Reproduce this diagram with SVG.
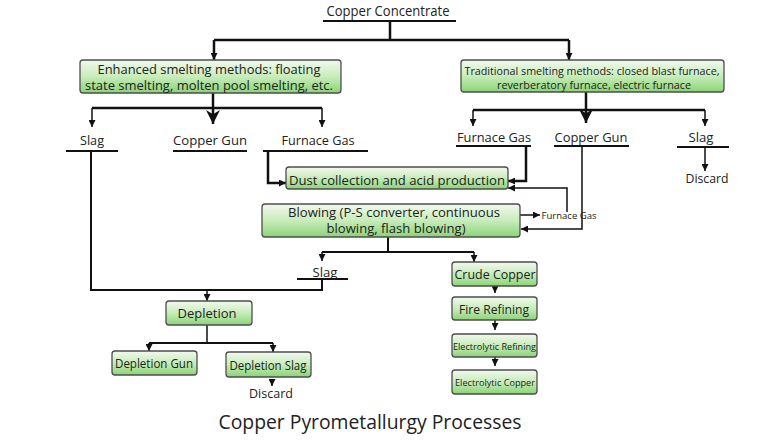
<svg xmlns="http://www.w3.org/2000/svg" width="768" height="440" viewBox="0 0 768 440">
<style>
text{font-family:"Open Sans","Noto Sans","DejaVu Sans",sans-serif;fill:#222;text-anchor:middle}
.box{fill:url(#g);stroke:#4d4d4d;stroke-width:1.3}
.l{fill:none;stroke:#111;stroke-width:2.5}
.t{fill:none;stroke:#111;stroke-width:1.5}
.u{fill:none;stroke:#111;stroke-width:2}
</style>
<defs>
<linearGradient id="g" x1="0" y1="0" x2="0" y2="1">
<stop offset="0" stop-color="#f1f9ee"/>
<stop offset="0.5" stop-color="#c8ecbb"/>
<stop offset="1" stop-color="#8ad476"/>
</linearGradient>
<marker id="a" viewBox="0 0 10 10" refX="10" refY="5" markerWidth="7" markerHeight="7" markerUnits="userSpaceOnUse" orient="auto"><path d="M0,0L10,5L0,10z" fill="#111"/></marker>
<marker id="b" viewBox="0 0 10 10" refX="10" refY="5" markerWidth="14" markerHeight="14" markerUnits="userSpaceOnUse" orient="auto"><path d="M0,0L10,5L0,10L3,5z" fill="#111"/></marker>
</defs>
<rect width="768" height="440" fill="#fff"/>
<g id="connectors">
<path class="l" d="M390,21V40"/>
<path class="l" d="M214,40H569"/>
<path class="l" d="M214,40V60" marker-end="url(#a)"/>
<path class="l" d="M569,40V60" marker-end="url(#a)"/>
<path class="l" d="M213,93V124" marker-end="url(#b)"/>
<path class="l" d="M92,108H322"/>
<path class="t" d="M92,108V127" marker-end="url(#a)"/>
<path class="t" d="M322,108V127" marker-end="url(#a)"/>
<path class="l" d="M586,92V123" marker-end="url(#b)"/>
<path class="l" d="M473,110H705"/>
<path class="t" d="M473,110V126" marker-end="url(#a)"/>
<path class="t" d="M705,110V126" marker-end="url(#a)"/>
<path class="u" d="M66,151H118"/>
<path class="u" d="M173,151H247"/>
<path class="u" d="M263,151H368"/>
<path class="u" d="M456,146H531"/>
<path class="u" d="M554,146H629"/>
<path class="u" d="M677,147H729"/>
<path class="u" d="M323,21H456"/>
<path class="t" d="M705,147V171" marker-end="url(#a)"/>
<path class="l" d="M268,151V183H286" marker-end="url(#a)"/>
<path class="l" d="M526,146V181H508" marker-end="url(#a)"/>
<path class="t" d="M520,215H540" marker-end="url(#a)"/>
<path class="t" d="M567,212V188H508" marker-end="url(#a)"/>
<path class="t" d="M582,146V229H521" marker-end="url(#a)"/>
<path class="u" d="M388,237V252"/>
<path class="u" d="M322,252H474"/>
<path class="t" d="M322,252V261" marker-end="url(#a)"/>
<path class="t" d="M474,252V262" marker-end="url(#a)"/>
<path class="u" d="M297,279H348"/>
<path class="u" d="M322,279V290H91V151"/>
<path class="t" d="M207,290V301" marker-end="url(#a)"/>
<path class="t" d="M207,325V342"/>
<path class="u" d="M149,343H273"/>
<path class="t" d="M149,343V351" marker-end="url(#a)"/>
<path class="t" d="M273,343V352" marker-end="url(#a)"/>
<path class="t" d="M272,379V386" marker-end="url(#a)"/>
<path class="t" d="M495,286V293" marker-end="url(#a)"/>
<path class="t" d="M495,320V330" marker-end="url(#a)"/>
<path class="t" d="M495,357V366" marker-end="url(#a)"/>
</g>
<g id="n-concentrate"><text x="388" y="16" font-size="14" textLength="123" lengthAdjust="spacingAndGlyphs">Copper Concentrate</text></g>
<g id="n-enhanced"><rect class="box" x="80" y="60" width="261" height="33" rx="3"/>
<text x="209" y="73.5" font-size="12" textLength="223" lengthAdjust="spacingAndGlyphs">Enhanced smelting methods: floating</text>
<text x="209" y="90" font-size="12" textLength="248" lengthAdjust="spacingAndGlyphs">state smelting, molten pool smelting, etc.</text></g>
<g id="n-traditional"><rect class="box" x="461" y="60" width="263" height="32" rx="3"/>
<text x="592" y="74.5" font-size="10" textLength="255" lengthAdjust="spacingAndGlyphs">Traditional smelting methods: closed blast furnace,</text>
<text x="594" y="88.5" font-size="10" textLength="194" lengthAdjust="spacingAndGlyphs">reverberatory furnace, electric furnace</text></g>
<g id="n-slag1"><text x="92" y="145" font-size="13" textLength="24" lengthAdjust="spacingAndGlyphs">Slag</text></g>
<g id="n-gun1"><text x="210" y="145" font-size="13" textLength="74" lengthAdjust="spacingAndGlyphs">Copper Gun</text></g>
<g id="n-gas1"><text x="318" y="145" font-size="13" textLength="73" lengthAdjust="spacingAndGlyphs">Furnace Gas</text></g>
<g id="n-gas2"><text x="494" y="141.5" font-size="13" textLength="74" lengthAdjust="spacingAndGlyphs">Furnace Gas</text></g>
<g id="n-gun2"><text x="591" y="141.5" font-size="13" textLength="73" lengthAdjust="spacingAndGlyphs">Copper Gun</text></g>
<g id="n-slag2"><text x="701" y="141.5" font-size="13" textLength="25" lengthAdjust="spacingAndGlyphs">Slag</text></g>
<g id="n-discard1"><text x="707" y="182.5" font-size="13" textLength="43" lengthAdjust="spacingAndGlyphs">Discard</text></g>
<g id="n-dust"><rect class="box" x="286" y="167" width="222" height="22" rx="3"/>
<text x="397" y="184.5" font-size="13" textLength="216" lengthAdjust="spacingAndGlyphs">Dust collection and acid production</text></g>
<g id="n-blowing"><rect class="box" x="262" y="204" width="258" height="33" rx="3"/>
<text x="394" y="216.5" font-size="12" textLength="212" lengthAdjust="spacingAndGlyphs">Blowing (P-S converter, continuous</text>
<text x="396" y="233" font-size="12" textLength="139" lengthAdjust="spacingAndGlyphs">blowing, flash blowing)</text></g>
<g id="n-gas3"><text x="569" y="218.5" font-size="9.5" textLength="55" lengthAdjust="spacingAndGlyphs">Furnace Gas</text></g>
<g id="n-slag3"><text x="325" y="276.5" font-size="13" textLength="25" lengthAdjust="spacingAndGlyphs">Slag</text></g>
<g id="n-depletion"><rect class="box" x="166" y="301" width="86" height="24" rx="3"/>
<text x="207" y="317.5" font-size="13" textLength="59" lengthAdjust="spacingAndGlyphs">Depletion</text></g>
<g id="n-depgun"><rect class="box" x="112" y="351" width="85" height="24" rx="3"/>
<text x="154" y="367.5" font-size="12" textLength="78" lengthAdjust="spacingAndGlyphs">Depletion Gun</text></g>
<g id="n-depslag"><rect class="box" x="226" y="352" width="85" height="25" rx="3"/>
<text x="268" y="369.5" font-size="12" textLength="77" lengthAdjust="spacingAndGlyphs">Depletion Slag</text></g>
<g id="n-discard2"><text x="271" y="397.5" font-size="13" textLength="44" lengthAdjust="spacingAndGlyphs">Discard</text></g>
<g id="n-crude"><rect class="box" x="452" y="262" width="85" height="24" rx="3"/>
<text x="495" y="278.5" font-size="13" textLength="81" lengthAdjust="spacingAndGlyphs">Crude Copper</text></g>
<g id="n-fire"><rect class="box" x="452" y="297" width="85" height="23" rx="3"/>
<text x="494" y="313.5" font-size="13" textLength="70" lengthAdjust="spacingAndGlyphs">Fire Refining</text></g>
<g id="n-elref"><rect class="box" x="452" y="334" width="85" height="23" rx="3"/>
<text x="494.5" y="349.5" font-size="9.5" textLength="83" lengthAdjust="spacingAndGlyphs">Electrolytic Refining</text></g>
<g id="n-elcu"><rect class="box" x="452" y="370" width="85" height="24" rx="3"/>
<text x="495" y="385.5" font-size="9.5" textLength="80" lengthAdjust="spacingAndGlyphs">Electrolytic Copper</text></g>
<g id="title"><text x="370" y="429" font-size="20" textLength="303" lengthAdjust="spacingAndGlyphs">Copper Pyrometallurgy Processes</text></g>
</svg>
